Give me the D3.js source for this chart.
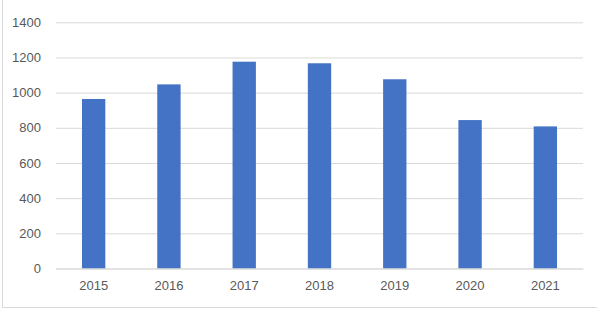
<!DOCTYPE html>
<html><head><meta charset="utf-8">
<script src="https://cdn.jsdelivr.net/npm/d3@7"></script>
<style>body{margin:0;background:#fff;}svg{display:block;}</style>
</head><body>
<script>
const categories = ["2015","2016","2017","2018","2019","2020","2021"];
const values = [964, 1047, 1176, 1167, 1076, 844, 808];
const yTicks = [0,200,400,600,800,1000,1200,1400];

const W = 597, H = 314;
const m = {left:56, right:14, top:22.3, bottom:45.5};
const svg = d3.select("body").append("svg").attr("width",W).attr("height",H);

// frame
svg.append("line").attr("x1",2.5).attr("x2",2.5).attr("y1",0).attr("y2",307.5).attr("stroke","#d9d9d9");
svg.append("line").attr("x1",2.5).attr("x2",W).attr("y1",307.5).attr("y2",307.5).attr("stroke","#d9d9d9");

const x = d3.scaleBand().domain(categories).range([m.left, W-m.right]).paddingInner(0.69).paddingOuter(0.345);
const y = d3.scaleLinear().domain([0,1400]).range([H-m.bottom, m.top]);

const font = "'Liberation Sans', Arial, sans-serif";

// gridlines
const yAxis = d3.axisLeft(y).tickValues(yTicks).tickFormat(d3.format("d")).tickSize(-(W-m.right-m.left)).tickPadding(15);
const gy = svg.append("g").attr("transform",`translate(${m.left},0)`).call(yAxis);
gy.select(".domain").remove();
gy.selectAll(".tick line").attr("stroke","#d9d9d9").attr("stroke-width",1);
gy.selectAll(".tick text").attr("fill","#595959").style("font-family",font).style("font-size","13px");

// bars
svg.append("g").selectAll("rect").data(values).join("rect")
  .attr("x",(d,i)=>x(categories[i]))
  .attr("width",x.bandwidth())
  .attr("y",d=>y(d))
  .attr("height",d=>y(0)-y(d))
  .attr("fill","#4472c4");

// x axis
const xAxis = d3.axisBottom(x).tickSize(0).tickPadding(12);
const gx = svg.append("g").attr("transform",`translate(0,${y(0)})`).call(xAxis);
gx.select(".domain").attr("stroke","#d9d9d9");
gx.selectAll(".tick text").attr("fill","#595959").style("font-family",font).style("font-size","13px");
</script>
</body></html>
